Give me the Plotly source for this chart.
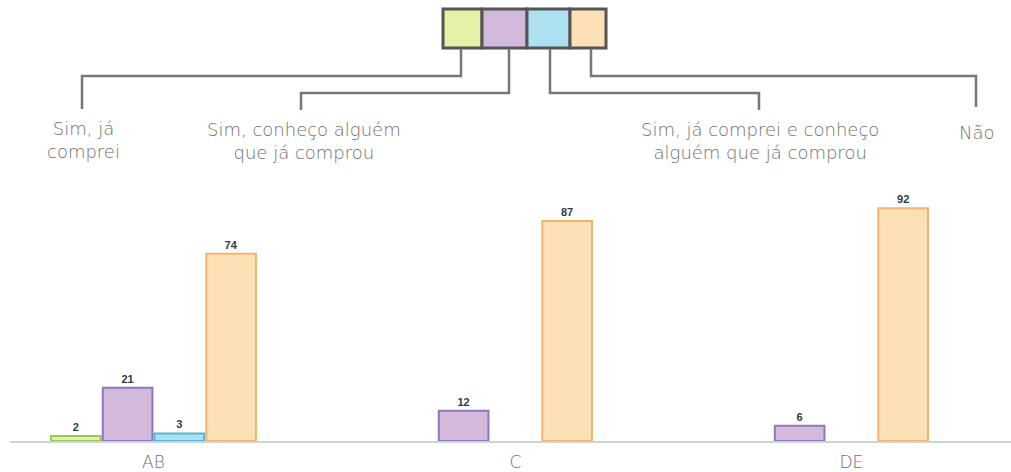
import plotly.graph_objects as go

categories = ["AB", "C", "DE"]
series_names = ["Sim, já comprei", "Sim, conheço alguém que já comprou",
                "Sim, já comprei e conheço alguém que já comprou", "Não"]
sim_ja_comprei = [2, None, None]
sim_conheco = [21, 12, 6]
sim_ambos = [3, None, None]
nao = [74, 87, 92]
legend_labels = ["Sim, já<br>comprei", "Sim, conheço alguém<br>que já comprou",
                 "Sim, já comprei e conheço<br>alguém que já comprou", "Não"]

fills = ["#e6f0a6", "#d3b9db", "#ade0f1", "#fde1b6"]
borders = ["#9cc65a", "#8f76bd", "#5ab4d6", "#f2b66a"]

W, H = 1011, 472
ML, MR, MT, MB = 10, 0, 188, 31
FONT = "DejaVu Sans"
GRAY = "#707070"

def px(x):
    return (x - ML) / (W - ML - MR)

def py(y):
    return (H - MB - y) / (H - MT - MB)

fig = go.Figure()
for name, vals, f, b in zip(series_names, [sim_ja_comprei, sim_conheco, sim_ambos, nao], fills, borders):
    fig.add_trace(go.Bar(
        x=list(range(len(categories))), y=vals, name=name,
        marker=dict(color=f, line=dict(color=b, width=2)),
        text=["<b>%d</b>" % v if v is not None else "" for v in vals],
        textposition="outside", cliponaxis=False,
        textfont=dict(family="Liberation Sans", size=11, color="#2d3b48"),
    ))

shapes = []
# legend boxes
box_x = [443, 482, 527, 570, 606]
for i in range(4):
    shapes.append(dict(type="rect", xref="paper", yref="paper",
                       x0=px(box_x[i]), x1=px(box_x[i + 1]), y0=py(48), y1=py(9),
                       fillcolor=fills[i], line=dict(color="#555555", width=3)))

# connector lines: (box bottom x, elbow y, label x, label top y)
connectors = [(461, 76, 82, 109), (509, 93, 301, 110), (550, 93, 759, 110), (591, 76, 976, 107)]
for bx, ey, lx, ly in connectors:
    path = f"M {px(bx)},{py(49)} L {px(bx)},{py(ey)} L {px(lx)},{py(ey)} L {px(lx)},{py(ly)}"
    shapes.append(dict(type="path", xref="paper", yref="paper", path=path,
                       line=dict(color="#777777", width=2.5)))

annotations = []
label_pos = [(83, 140), (304, 141), (760, 141), (977, 133)]
for txt, (lx, ly) in zip(legend_labels, label_pos):
    annotations.append(dict(text=txt, xref="paper", yref="paper", x=px(lx), y=py(ly),
                            xanchor="center", yanchor="middle", showarrow=False,
                            font=dict(family=FONT, size=18, color=GRAY, weight=200)))

fig.update_layout(
    width=W, height=H,
    margin=dict(l=ML, r=MR, t=MT, b=MB),
    paper_bgcolor="white", plot_bgcolor="white",
    barmode="group", bargap=0.384, bargroupgap=0.04,
    showlegend=False,
    shapes=shapes, annotations=annotations,
    xaxis=dict(range=[-0.427, 2.552], tickvals=[0, 1.077, 2.077], ticktext=categories,
               showgrid=False, zeroline=False, showline=True, linecolor="#c9d5dd", linewidth=2,
               ticks="", ticklabelstandoff=5,
               tickfont=dict(family=FONT, size=17, color=GRAY, weight=200)),
    yaxis=dict(range=[0, 100], visible=False),
)

fig.write_html("out.html", config={"displayModeBar": False},
               post_script="document.body.style.margin='0';")
